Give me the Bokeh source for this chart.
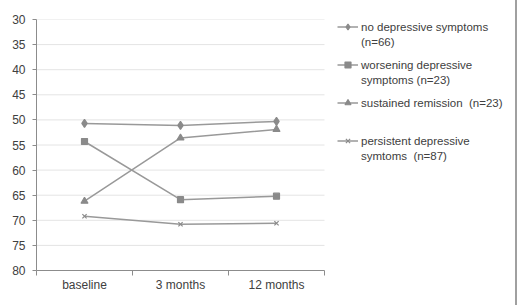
from bokeh.plotting import figure
from bokeh.models import Range1d, FixedTicker, Legend, LegendItem
from bokeh.embed import file_html
from bokeh.resources import INLINE

categories = ["baseline", "3 months", "12 months"]
no_depressive = [50.7, 51.1, 50.3]
worsening = [54.3, 65.9, 65.2]
sustained_remission = [66.2, 53.6, 51.9]
persistent = [69.2, 70.8, 70.6]
series_labels = [["no depressive symptoms", "(n=66)"],
                 ["worsening depressive", "symptoms (n=23)"],
                 ["sustained remission  (n=23)"],
                 ["persistent depressive", "symtoms  (n=87)"]]
y_ticks = [30, 35, 40, 45, 50, 55, 60, 65, 70, 75, 80]

n = len(categories)
xs = [i + 0.5 for i in range(n)]

PLOT_W = 288          # width of the data area in px
FW, FH = 479, 251     # frame spans to the right edge so the legend can sit inside it
px_per_unit = PLOT_W / n

p = figure(frame_width=FW, frame_height=FH, output_backend="svg", toolbar_location=None,
           x_range=Range1d(0, FW / px_per_unit), y_range=Range1d(80, 30),
           min_border_left=36, min_border_top=19, min_border_bottom=35, min_border_right=0)
p.outline_line_color = None
p.background_fill_color = "white"
p.border_fill_color = "white"
p.styles = {"border-right": "2px solid #a0a0a0"}

FONT = "Liberation Sans"
LINE = "#999999"
MARK = "#8a8a8a"

# horizontal grid lines, only across the data area
grid_vals = [t for t in y_ticks if t != 80]
p.segment(x0=[0] * len(grid_vals), x1=[n] * len(grid_vals), y0=grid_vals, y1=grid_vals,
          line_color="#e4e4e4", line_width=1)

specs = [(no_depressive, "diamond", 8), (worsening, "square", 6),
         (sustained_remission, "triangle", 7), (persistent, "x", 6)]
renderers = []
blanks = []
for vals, marker, size in specs:
    l = p.line(xs, vals, line_color=LINE, line_width=1.5)
    s = p.scatter(xs, vals, marker=marker, size=size, fill_color=MARK, line_color=MARK, line_width=1.2)
    b = p.line(xs, vals, line_alpha=0)
    renderers.append([l, s])
    blanks.append(b)

p.xaxis.bounds = (0, n)
p.xaxis.ticker = FixedTicker(ticks=xs, minor_ticks=list(range(n + 1)))
p.xaxis.major_label_overrides = {x: c for x, c in zip(xs, categories)}
p.xaxis.major_tick_line_color = None
p.xaxis.major_tick_out = 0
p.xaxis.minor_tick_out = 5
p.xaxis.minor_tick_in = 0
p.xaxis.minor_tick_line_color = "#8c8c8c"
p.xaxis.major_label_standoff = 2

p.yaxis.ticker = FixedTicker(ticks=y_ticks)
p.yaxis.major_tick_out = 4
p.yaxis.major_tick_in = 0
p.yaxis.minor_tick_line_color = None
p.yaxis.major_tick_line_color = "#8c8c8c"
p.yaxis.major_label_standoff = 7

for ax in (p.xaxis, p.yaxis):
    ax.axis_line_color = "#8c8c8c"
    ax.major_label_text_font = FONT
    ax.major_label_text_font_size = "12px"
    ax.major_label_text_color = "#404040"

p.xgrid.grid_line_color = None
p.ygrid.grid_line_color = None

ROW = 15
group_tops = [0, 38, 76, 114]  # offsets below frame top, screen px
for lines, r, b, top in zip(series_labels, renderers, blanks, group_tops):
    items = [LegendItem(label=lines[0], renderers=r)]
    for extra in lines[1:]:
        items.append(LegendItem(label=extra, renderers=[b]))
    h = ROW * len(items)
    lg = Legend(items=items, location=(PLOT_W + 13, FH - top - h), margin=0, padding=0,
                border_line_color=None, background_fill_alpha=0,
                label_text_font=FONT, label_text_font_size="11.5px", label_text_color="#404040",
                glyph_width=21, glyph_height=ROW, label_height=ROW, label_standoff=3, spacing=0)
    p.add_layout(lg)

open("out.html", "w").write(file_html(p, INLINE))
